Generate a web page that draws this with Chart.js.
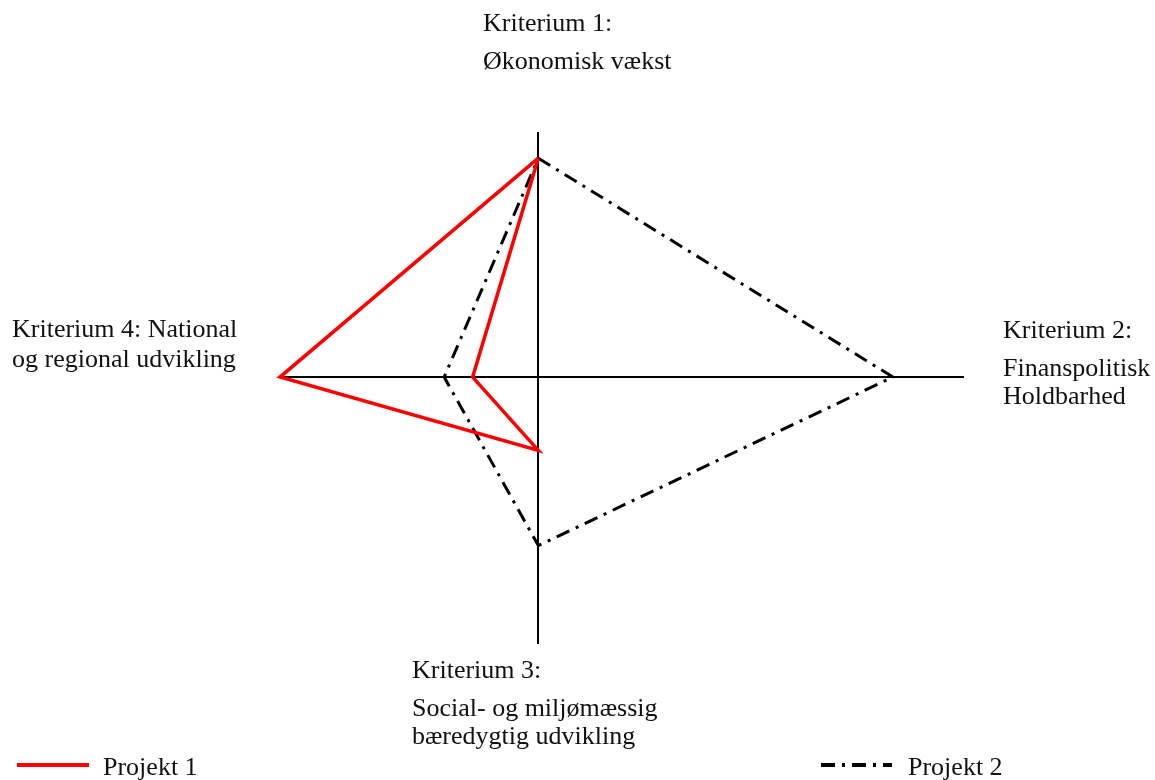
<!DOCTYPE html>
<html>
<head>
<meta charset="utf-8">
<script src="https://cdn.jsdelivr.net/npm/chart.js@4"></script>
<style>
  body { margin: 0; background: #fff; }
</style>
</head>
<body>
<canvas id="chart" width="1155" height="780"></canvas>
<script>
// criteria, clockwise from the top
const criteria = [
  ["Kriterium 1:", "Økonomisk vækst"],
  ["Kriterium 2:", "Finanspolitisk", "Holdbarhed"],
  ["Kriterium 3:", "Social- og miljømæssig", "bæredygtig udvikling"],
  ["Kriterium 4: National", "og regional udvikling"],
];
const seriesNames = ["Projekt 1", "Projekt 2"];
const projekt1 = [10, -3, 3.35, 11.8];
const projekt2 = [10, 16.2, 7.7, 4.3];

// direction of each criterion axis: up, right, down, left
const directions = [[0, 1], [1, 0], [0, -1], [-1, 0]];

function toPoints(values) {
  const pts = values.map((v, i) => ({ x: directions[i][0] * v, y: directions[i][1] * v }));
  pts.push(pts[0]);
  return pts;
}

const labelPlugin = {
  id: "labels",
  afterDraw(chart) {
    const ctx = chart.ctx;
    ctx.save();
    ctx.font = "26px 'Liberation Serif'";
    ctx.fillStyle = "#111";
    ctx.textBaseline = "alphabetic";
    ctx.textAlign = "left";

    const spots = [
      { x: 483, lines: [31, 69] },
      { x: 1003, lines: [338, 376, 404] },
      { x: 412, lines: [678, 716, 744] },
      { x: 12, lines: [337, 367] },
    ];
    criteria.forEach((lines, i) => {
      lines.forEach((t, j) => ctx.fillText(t, spots[i].x, spots[i].lines[j]));
    });

    // legend
    const legend = [
      { x0: 17, x1: 89, tx: 103 },
      { x0: 821, x1: 892, tx: 908 },
    ];
    chart.data.datasets.forEach((ds, i) => {
      const l = legend[i];
      ctx.beginPath();
      ctx.strokeStyle = ds.borderColor;
      ctx.lineWidth = 4;
      ctx.setLineDash(ds.borderDash || []);
      ctx.moveTo(l.x0, 765);
      ctx.lineTo(l.x1, 765);
      ctx.stroke();
      ctx.setLineDash([]);
      ctx.fillStyle = "#111";
      ctx.fillText(ds.label, l.tx, 775);
    });
    ctx.restore();
  },
};

new Chart(document.getElementById("chart"), {
  type: "scatter",
  data: {
    datasets: [
      {
        label: seriesNames[0],
        data: toPoints(projekt1),
        showLine: true,
        borderColor: "#ff0000",
        borderWidth: 3.5,
        pointRadius: 0,
        clip: false,
      },
      {
        label: seriesNames[1],
        data: toPoints(projekt2),
        showLine: true,
        borderColor: "#000000",
        borderWidth: 3,
        borderDash: [14, 7, 3, 7],
        pointRadius: 0,
        clip: false,
      },
    ],
  },
  options: {
    responsive: false,
    animation: false,
    layout: { padding: { left: 280, right: 192, top: 133, bottom: 137 } },
    plugins: {
      legend: { display: false },
      tooltip: { enabled: false },
    },
    scales: {
      x: {
        type: "linear",
        min: -11.8,
        max: 19.4,
        position: { y: 0 },
        ticks: { display: false },
        grid: { display: false },
        border: { display: true, color: "#000", width: 2 },
      },
      y: {
        type: "linear",
        min: -12.15,
        max: 11.15,
        position: { x: 0 },
        ticks: { display: false },
        grid: { display: false },
        border: { display: true, color: "#000", width: 2 },
      },
    },
  },
  plugins: [labelPlugin],
});
</script>
</body>
</html>
